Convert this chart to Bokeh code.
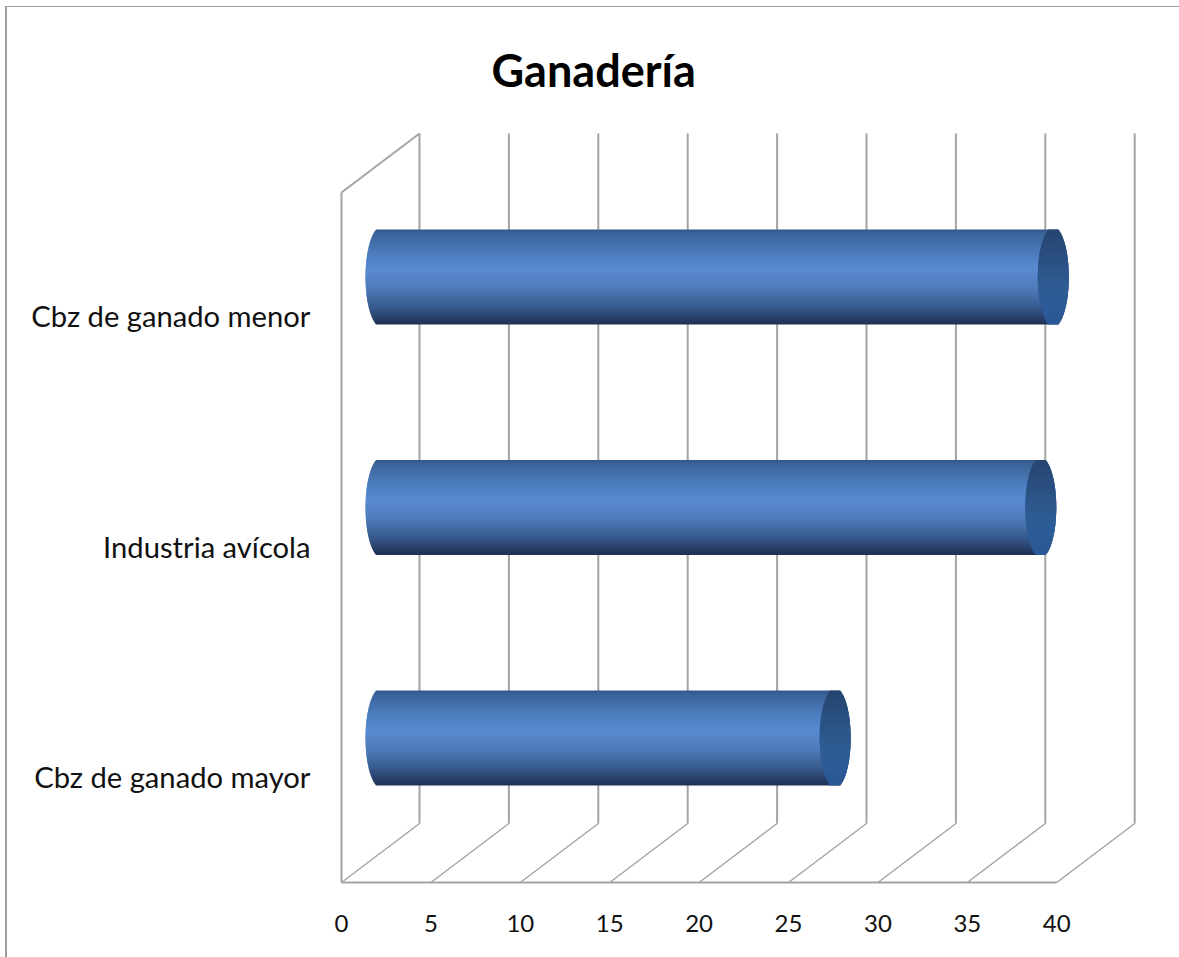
from bokeh.plotting import figure
from bokeh.models import FixedTicker, ColumnDataSource, Range1d
from bokeh.embed import file_html
from bokeh.resources import INLINE
import numpy as np

categories = ["Cbz de ganado mayor", "Industria avícola", "Cbz de ganado menor"]
values = [25.4, 36.9, 37.6]
ticks = [0, 5, 10, 15, 20, 25, 30, 35, 40]
title = "Ganadería"

GRID = "#a4a4a4"
PXX = 17.88   # pixels per value unit
PXY = 230.5   # pixels per category
PAD = 4
FW, FH = 801, 757
DX, DY = 78 / PXX, 59 / PXY          # depth of the 3-D box
BX, BY = 39.5 / PXX, 38.5 / PXY      # depth of the bars
HALF = 47.0 / PXY                    # cylinder half height
CAP = 15.5 / PXX                     # cylinder cap half width
FLOOR = -(882 - 776) / PXY
TOP_FRONT = (776 - 192) / PXY

p = figure(width=1172, height=950, frame_width=FW, frame_height=FH,
           x_range=Range1d(-PAD / PXX, -PAD / PXX + FW / PXX),
           y_range=Range1d(FLOOR - PAD / PXY, FLOOR - PAD / PXY + FH / PXY),
           output_backend="svg", toolbar_location=None,
           min_border_left=330, min_border_right=41, min_border_top=122, min_border_bottom=71,
           background_fill_color="white", border_fill_color="white",
           styles={"position": "relative", "left": "5px", "top": "6px", "margin-bottom": "-12px",
                   "border-left": "2px solid #9c9c9c", "border-top": "1px solid #9c9c9c",
                   "box-sizing": "content-box"})
p.outline_line_color = None
p.grid.visible = False

# axes
p.xaxis.ticker = FixedTicker(ticks=ticks)
p.xaxis.axis_line_color = None
p.xaxis.major_tick_line_color = None
p.xaxis.minor_tick_line_color = None
p.xaxis.major_label_text_font = "Lato"
p.xaxis.major_label_text_font_size = "24px"
p.xaxis.major_label_text_color = "#111111"
p.xaxis.major_label_standoff = 22

p.yaxis.ticker = FixedTicker(ticks=[0, 1, 2])
p.yaxis.major_label_overrides = {i: c for i, c in enumerate(categories)}
p.yaxis.axis_line_color = None
p.yaxis.major_tick_line_color = None
p.yaxis.minor_tick_line_color = None
p.yaxis.major_label_text_font = "Lato"
p.yaxis.major_label_text_font_size = "29.2px"
p.yaxis.major_label_text_color = "#111111"
p.yaxis.major_label_standoff = 21

# 3-D box lines
t = np.array(ticks, dtype=float)
p.segment(t + DX, FLOOR + DY, t + DX, TOP_FRONT + DY, line_color=GRID, line_width=2)
p.segment(t, FLOOR, t + DX, FLOOR + DY, line_color=GRID, line_width=1.5)
p.segment([0], [FLOOR], [40], [FLOOR], line_color=GRID, line_width=2)
p.segment([0], [FLOOR], [0], [TOP_FRONT], line_color=GRID, line_width=2)
p.segment([0], [TOP_FRONT], [DX], [TOP_FRONT + DY], line_color=GRID, line_width=2)

# cylinders, painted as thin bands so that they carry a vertical gradient
stops_pos = [0.0, 0.05, 0.25, 0.42, 0.62, 0.80, 0.93, 1.0]
stops_r = [0x33, 0x3c, 0x4c, 0x5a, 0x4f, 0x3b, 0x2a, 0x1f]
stops_g = [0x58, 0x65, 0x7d, 0x8b, 0x7c, 0x60, 0x42, 0x32]
stops_b = [0x88, 0x9b, 0xbd, 0xd2, 0xbb, 0x94, 0x6c, 0x55]
cap_r = [0x26, 0x2a, 0x2c, 0x2e, 0x2d, 0x2b]
cap_g = [0x44, 0x4d, 0x55, 0x5c, 0x5c, 0x58]
cap_b = [0x6e, 0x7d, 0x88, 0x92, 0x98, 0x96]
cap_pos = [0.0, 0.2, 0.4, 0.6, 0.8, 1.0]

N = 95
f = (np.arange(N) + 0.5) / N
bend = np.sqrt(1 - (0.95 * (2 * f - 1)) ** 2)
hexc = lambda r, g, b: "#%02x%02x%02x" % (int(r), int(g), int(b))
body = [hexc(*c) for c in zip(np.interp(f, stops_pos, stops_r), np.interp(f, stops_pos, stops_g), np.interp(f, stops_pos, stops_b))]
caps = [hexc(*c) for c in zip(np.interp(f, cap_pos, cap_r), np.interp(f, cap_pos, cap_g), np.interp(f, cap_pos, cap_b))]

for i, v in enumerate(values):
    y = i + BY + HALF - 2 * HALF * f
    src = ColumnDataSource(dict(y=y, left=BX - CAP * bend, right=BX + v + CAP * bend, c=body))
    p.hbar(y="y", left="left", right="right", height=2 * HALF / N * 1.8, fill_color="c", line_color=None, source=src)
    src2 = ColumnDataSource(dict(y=y, left=BX + v - CAP * bend, right=BX + v + CAP * bend, c=caps))
    p.hbar(y="y", left="left", right="right", height=2 * HALF / N * 1.8, fill_color="c", line_color=None, source=src2)

# title
p.title.text = title
p.title.align = "left"
p.title.offset = 154
p.title.text_font = "Lato"
p.title.text_font_style = "bold"
p.title.text_font_size = "45px"
p.title.text_color = "#000000"
p.title.standoff = 65

open("out.html", "w").write(file_html(p, INLINE))
